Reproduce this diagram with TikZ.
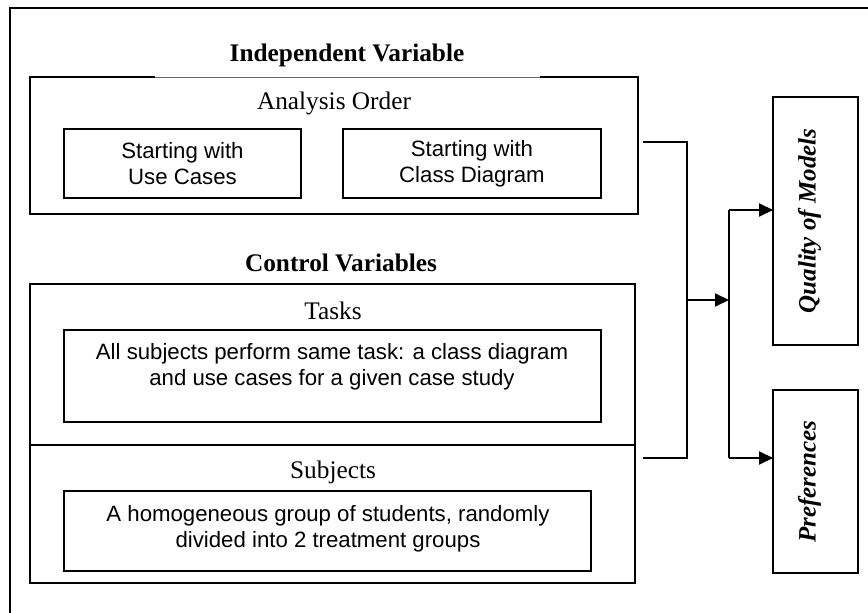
\documentclass[tikz,border=0pt]{standalone}
\usepackage{fontspec}
\setmainfont{Liberation Serif}
\newfontfamily\arialf{Liberation Sans}
\usetikzlibrary{arrows.meta}
\begin{document}
\begin{tikzpicture}[x=1pt,y=-1pt,
  frame/.style={line width=1.9pt},
  box/.style={draw, line width=1.9pt, inner sep=0pt, outer sep=0pt, anchor=north west},
  ibox/.style={box, font=\arialf\fontsize{22.2}{26}\selectfont, align=center},
  titletxt/.style={font=\bfseries\fontsize{25.3}{29}\selectfont},
  headtxt/.style={font=\fontsize{25.3}{29}\selectfont},
  bodytxt/.style={font=\arialf\fontsize{22.2}{26}\selectfont, align=center},
  outtxt/.style={font=\bfseries\itshape\fontsize{25}{29}\selectfont, rotate=90},
  conn/.style={line width=1.9pt},
  arr/.style={line width=1.9pt, -{Triangle[length=14pt,width=13pt]}}
]
\useasboundingbox (0,0) rectangle (868,613);
% outer frame (cropped)
\draw[frame] (10,613) -- (10,8) -- (868,8);

% Independent variable
\node[titletxt] (tind) at (347,55) {Independent Variable};
\node[box, minimum width=608pt, minimum height=137pt] (ind) at (30,77) {};
\draw[white, line width=2.6pt] (155,77) -- (540,77);
\draw[black!60, line width=0.7pt] (155,77) -- (540,77);
\node[headtxt] (ao) at (334,103) {Analysis Order};
\node[ibox, minimum width=237pt, minimum height=69pt] (uc) at (64,129) {Starting with\\Use Cases};
\node[ibox, minimum width=258pt, minimum height=69pt] (cd) at (343,129) {Starting with\\Class Diagram};

% Control variables
\node[titletxt] (tctrl) at (341,263) {Control Variables};
\node[box, minimum width=605pt, minimum height=299pt] (ctrl) at (30,284) {};
\draw[line width=1.9pt] (ctrl.west |- 0,445) coordinate (dl) -- (ctrl.east |- 0,445) coordinate (dr);
\node[headtxt] (tasks) at (333,311) {Tasks};
\node[box, minimum width=537pt, minimum height=92pt] (tbox) at (64,330) {};
\node[bodytxt] (ttxt) at (332,367) {All subjects perform same task: a class diagram\\and use cases for a given case study};
\node[headtxt] (subj) at (333,472) {Subjects};
\node[box, minimum width=527pt, minimum height=80pt] (sbox) at (64,491) {};
\node[bodytxt] (stxt) at (328,529) {A homogeneous group of students, randomly\\divided into 2 treatment groups};

% Outcomes
\node[box, minimum width=85pt, minimum height=248pt] (qual) at (773,97) {};
\node[outtxt] (qtxt) at ([xshift=-6pt]qual.center) {Quality of Models};
\node[box, minimum width=85pt, minimum height=183pt] (pref) at (773,390) {};
\node[outtxt] (ptxt) at ([xshift=-6pt]pref.center) {Preferences};

% connectors
\coordinate (is) at (643,142);
\coordinate (cs) at (643,458);
\coordinate (jt) at (687,142);
\coordinate (jb) at (687,458);
\coordinate (jm) at (687,300);
\coordinate (sp) at (729,300);
\coordinate (st) at (729,210);
\coordinate (sb) at (729,458);
\draw[conn] (is) -- (jt) -- (jb) -- (cs);
\draw[arr] (jm) -- (sp);
\draw[conn] (st) -- (sb);
\draw[arr] (st) -- (qual.west |- st);
\draw[arr] (sb) -- (pref.west |- sb);
\end{tikzpicture}
\end{document}
